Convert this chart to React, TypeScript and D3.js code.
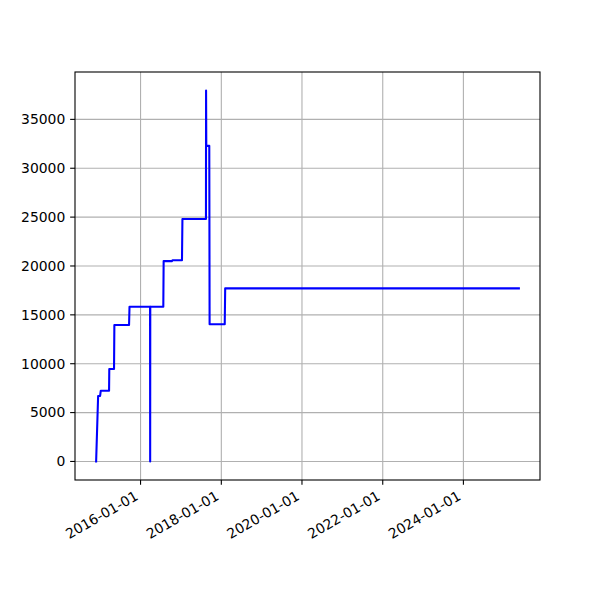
import React from "react";
import * as d3 from "d3";

const dates: string[] = [
  "2014-11-25", "2014-12-13", "2014-12-31", "2015-01-06", "2015-03-22", "2015-03-24",
  "2015-05-06", "2015-05-09", "2015-09-19", "2015-09-23", "2016-03-27", "2016-03-28",
  "2016-03-29", "2016-07-25", "2016-07-28", "2016-10-12", "2016-10-16", "2017-01-10",
  "2017-01-14", "2017-08-15", "2017-08-16", "2017-08-18", "2017-09-14", "2017-09-17",
  "2018-02-01", "2018-02-05", "2025-05-17",
];
const values: number[] = [
  0, 6700, 6700, 7240, 7240, 9460,
  9460, 13960, 13960, 15830, 15830, 0,
  15830, 15830, 20500, 20500, 20580, 20580,
  24800, 24800, 37950, 32290, 32290, 14030,
  14030, 17710, 17710,
];
const yTicks: number[] = [0, 5000, 10000, 15000, 20000, 25000, 30000, 35000];
const xTickLabels: string[] = ["2016-01-01", "2018-01-01", "2020-01-01", "2022-01-01", "2024-01-01"];

const W = 600, H = 600;
const L = 75, R = 540, T = 72, B = 480;
const FONT = "'DejaVu Sans', sans-serif";
const FS = 13.9;
const TICK = 4.86;

export default function App() {
  const parse = (s: string) => new Date(s + "T00:00:00Z");
  const pts = dates.map((d, i) => ({ x: parse(d), y: values[i] }));
  const [x0, x1] = d3.extent(pts, (p) => p.x.getTime()) as [number, number];
  const xm = (x1 - x0) * 0.05;
  const [y0, y1] = d3.extent(pts, (p) => p.y) as [number, number];
  const ym = (y1 - y0) * 0.05;
  const xs = d3.scaleUtc().domain([new Date(x0 - xm), new Date(x1 + xm)]).range([L, R]);
  const ys = d3.scaleLinear().domain([y0 - ym, y1 + ym]).range([B, T]);
  const line = d3.line<{ x: Date; y: number }>().x((p) => xs(p.x)).y((p) => ys(p.y));
  const xt = xTickLabels.map((s) => ({ s, x: xs(parse(s)) }));

  return (
    <svg width={W} height={H} style={{ display: "block", position: "absolute", left: 0, top: 0 }}>
      <rect x={0} y={0} width={W} height={H} fill="white" />
      <g stroke="#b0b0b0" strokeWidth={1.1}>
        {xt.map((t) => (
          <line key={t.s} x1={t.x} x2={t.x} y1={T} y2={B} />
        ))}
        {yTicks.map((v) => (
          <line key={v} x1={L} x2={R} y1={ys(v)} y2={ys(v)} />
        ))}
      </g>
      <path d={line(pts) || ""} fill="none" stroke="blue" strokeWidth={2.08} strokeLinejoin="round" strokeLinecap="square" />
      <rect x={L} y={T} width={R - L} height={B - T} fill="none" stroke="black" strokeWidth={1.1} />
      <g stroke="black" strokeWidth={1.1}>
        {xt.map((t) => (
          <line key={t.s} x1={t.x} x2={t.x} y1={B} y2={B + TICK} />
        ))}
        {yTicks.map((v) => (
          <line key={v} x1={L - TICK} x2={L} y1={ys(v)} y2={ys(v)} />
        ))}
      </g>
      <g fontFamily={FONT} fontSize={FS} fill="black">
        {yTicks.map((v) => (
          <text key={v} x={L - TICK - 4.86} y={ys(v)} dy="0.35em" textAnchor="end">
            {v}
          </text>
        ))}
        {xt.map((t) => (
          <text
            key={t.s}
            textAnchor="end"
            transform={`translate(${t.x - 1.5},${B + TICK + 4.86 + 9.2}) rotate(-30)`}
          >
            {t.s}
          </text>
        ))}
      </g>
    </svg>
  );
}
